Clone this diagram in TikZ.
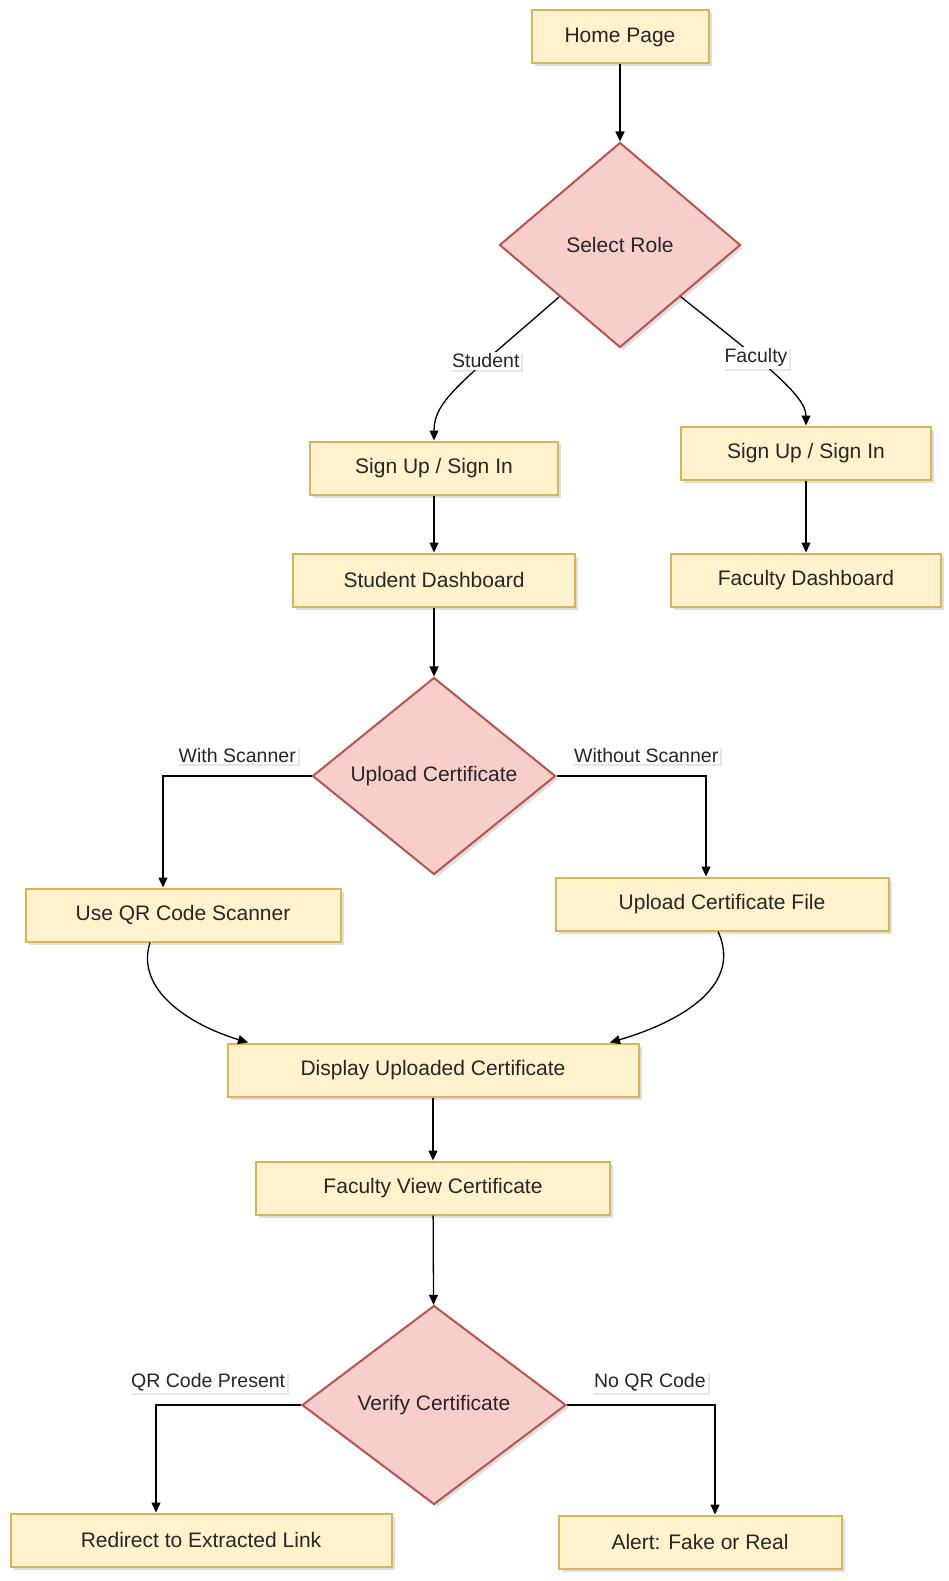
\documentclass[tikz,border=0pt]{standalone}
\usepackage{fontspec}
\setmainfont{Liberation Sans}
\usetikzlibrary{shapes.geometric,arrows.meta,shadows}

\definecolor{boxfill}{HTML}{FFF2CC}
\definecolor{boxline}{HTML}{D6B656}
\definecolor{choicefill}{HTML}{F8CECC}
\definecolor{choiceline}{HTML}{B85450}

\tikzstyle{box} = [draw=boxline, fill=boxfill, line width=2pt, minimum height=53pt, inner sep=0pt, text=black!85, font=\fontsize{21}{25}\selectfont, drop shadow={shadow xshift=3pt, shadow yshift=-3pt, opacity=0.25}]
\tikzstyle{choice} = [diamond, draw=choiceline, fill=choicefill, line width=2pt, inner sep=0pt, text=black!85, font=\fontsize{21}{25}\selectfont, drop shadow={shadow xshift=3pt, shadow yshift=-3pt, opacity=0.25}]
\tikzstyle{lbl} = [fill=white, inner sep=2pt, text=black!85, font=\fontsize{19.5}{22}\selectfont, drop shadow={shadow xshift=2pt, shadow yshift=-2pt, opacity=0.2}]
\tikzstyle{flow} = [-{Triangle[width=9pt,length=10pt]}, line width=1.3pt]

\begin{document}
\begin{tikzpicture}[x=1pt, y=1pt]
  \useasboundingbox (0,0) rectangle (949,-1581);
  \node (home) at (620,-37) [box, minimum width=177pt] {Home Page};
  \node (role) at (620,-245) [choice, minimum width=241pt, minimum height=205pt] {Select Role};
  \node (ssign) at (434,-468) [box, minimum width=248pt] {Sign Up / Sign In};
  \node (fsign) at (806,-453) [box, minimum width=250pt] {Sign Up / Sign In};
  \node (sdash) at (434,-580) [box, minimum width=282pt] {Student Dashboard};
  \node (fdash) at (806,-580) [box, minimum width=270pt] {Faculty Dashboard};
  \node (upload) at (434,-776) [choice, minimum width=243pt, minimum height=197pt] {Upload Certificate};
  \node (qr) at (183,-915) [box, minimum width=315pt] {Use QR Code Scanner};
  \node (file) at (722,-904) [box, minimum width=333pt] {Upload Certificate File};
  \node (disp) at (433,-1070) [box, minimum width=411pt] {Display Uploaded Certificate};
  \node (fview) at (433,-1188) [box, minimum width=354pt] {Faculty View Certificate};
  \node (verify) at (434,-1405) [choice, minimum width=264pt, minimum height=199pt] {Verify Certificate};
  \node (redir) at (201,-1540) [box, minimum width=381pt] {Redirect to Extracted Link};
  \node (alert) at (700,-1542) [box, minimum width=283pt] {Alert: Fake or Real};

  \draw [flow] (home) -- (role);
  \draw [flow] (role.south west) .. controls (462,-382) and (434,-400) .. node [lbl, pos=0.32] {Student} (ssign.north);
  \draw [flow] (role.south east) .. controls (760,-360) and (806,-395) .. node [lbl, pos=0.38] {Faculty} (fsign.north);
  \draw [flow] (ssign) -- (sdash);
  \draw [flow] (fsign) -- (fdash);
  \draw [flow] (sdash) -- (upload);
  \draw [flow] (upload.west) -| node [lbl, pos=0.25, above=11pt] {With Scanner} ([xshift=-20pt]qr.north);
  \draw [flow] (upload.east) -| node [lbl, pos=0.3, above=11pt] {Without Scanner} ([xshift=-16pt]file.north);
  \draw [flow] ([xshift=-33pt]qr.south) .. controls (135,-990) and (190,-1025) .. ([xshift=-185pt]disp.north);
  \draw [flow] ([xshift=-4pt]file.south) .. controls (745,-990) and (670,-1025) .. ([xshift=177pt]disp.north);
  \draw [flow] (disp) -- (fview);
  \draw [flow] (fview) -- (verify);
  \draw [flow] (verify.west) -| node [lbl, pos=0.32, above=11pt] {QR Code Present} ([xshift=-45pt]redir.north);
  \draw [flow] (verify.east) -| node [lbl, pos=0.28, above=11pt] {No QR Code} ([xshift=15pt]alert.north);
\end{tikzpicture}
\end{document}
